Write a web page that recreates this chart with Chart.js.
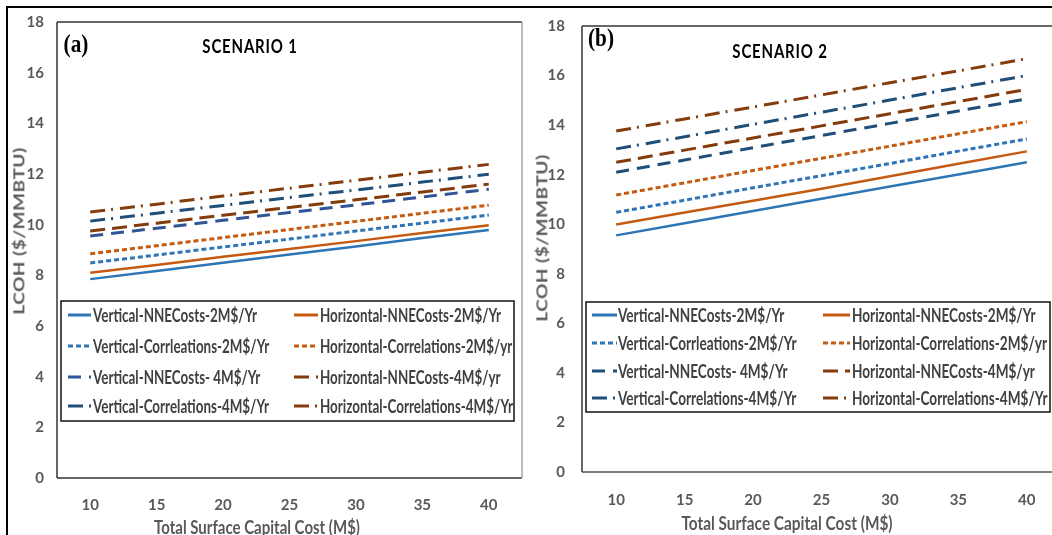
<!DOCTYPE html>
<html>
<head>
<meta charset="utf-8">
<script src="https://cdn.jsdelivr.net/npm/chart.js@4"></script>
<style>
  html, body { margin: 0; padding: 0; background: #fff; }
  body { width: 1052px; height: 535px; overflow: hidden; position: relative; }
  .frame { position: absolute; left: 6px; top: 6px; width: 1100px; height: 600px;
           border-top: 2px solid #000; border-left: 2px solid #000; }
  canvas { position: absolute; top: 0; }
  .txt { position: absolute; white-space: nowrap; line-height: 1; }
  .axt { font: bold 19px Lato, sans-serif; color: #595959; }
  .ayt { font: bold 19px Lato, sans-serif; color: #595959; letter-spacing: 0.5px; }
  .scn { font: bold 19px Lato, sans-serif; color: #000; letter-spacing: 1px; }
  .pnl { font: bold 25px "Liberation Serif", serif; color: #000; }
</style>
</head>
<body>
<div class="frame"></div>
<canvas id="chartA" width="530" height="535" style="left:0px"></canvas>
<canvas id="chartB" width="540" height="535" style="left:530px"></canvas>

<div class="txt pnl" style="left:76px;top:44px;transform:translate(-50%,-50%) scaleX(0.85)">(a)</div>
<div class="txt scn" style="left:250px;top:45px;transform:translate(-50%,-50%) scaleX(0.79)">SCENARIO 1</div>
<div class="txt axt" style="left:257px;top:526px;transform:translate(-50%,-50%) scaleX(0.79)">Total Surface Capital Cost (M$)</div>
<div class="txt ayt" style="left:19px;top:231px;transform:translate(-50%,-50%) rotate(-90deg) scaleY(0.75)">LCOH ($/MMBTU)</div>

<div class="txt pnl" style="left:601px;top:38px;transform:translate(-50%,-50%) scaleX(0.85)">(b)</div>
<div class="txt scn" style="left:780px;top:50px;transform:translate(-50%,-50%) scaleX(0.79)">SCENARIO 2</div>
<div class="txt axt" style="left:787px;top:522px;transform:translate(-50%,-50%) scaleX(0.81)">Total Surface Capital Cost (M$)</div>
<div class="txt ayt" style="left:542px;top:238px;transform:translate(-50%,-50%) rotate(-90deg) scaleY(0.75)">LCOH ($/MMBTU)</div>

<script>
// x categories: total surface capital cost (M$)
const capitalCost = ['10', '15', '20', '25', '30', '35', '40'];

// legend order (two columns, read row by row)
const seriesNames = [
  'Vertical-NNECosts-2M$/Yr',
  'Horizontal-NNECosts-2M$/Yr',
  'Vertical-Corrleations-2M$/Yr',
  'Horizontal-Correlations-2M$/yr',
  'Vertical-NNECosts- 4M$/Yr',
  'Horizontal-NNECosts-4M$/yr',
  'Vertical-Correlations-4M$/Yr',
  'Horizontal-Correlations-4M$/Yr'
];

// Scenario 1 - LCOH ($/MMBTU)
const s1VertNne2  = [7.85, 8.17, 8.50, 8.82, 9.14, 9.47, 9.79];
const s1HorzNne2  = [8.10, 8.41, 8.73, 9.04, 9.35, 9.67, 9.98];
const s1VertCor2  = [8.49, 8.80, 9.12, 9.43, 9.75, 10.06, 10.38];
const s1HorzCor2  = [8.85, 9.17, 9.49, 9.81, 10.13, 10.45, 10.77];
const s1VertNne4  = [9.55, 9.86, 10.17, 10.48, 10.78, 11.09, 11.40];
const s1HorzNne4  = [9.75, 10.06, 10.37, 10.68, 10.98, 11.29, 11.60];
const s1VertCor4  = [10.14, 10.45, 10.76, 11.07, 11.37, 11.68, 11.99];
const s1HorzCor4  = [10.50, 10.81, 11.13, 11.44, 11.75, 12.07, 12.38];

// Scenario 2 - LCOH ($/MMBTU)
const s2VertNne2  = [9.55, 10.04, 10.53, 11.03, 11.52, 12.01, 12.50];
const s2HorzNne2  = [9.99, 10.47, 10.95, 11.43, 11.94, 12.44, 12.94];
const s2VertCor2  = [10.48, 10.97, 11.47, 11.96, 12.45, 12.95, 13.44];
const s2HorzCor2  = [11.18, 11.67, 12.17, 12.66, 13.15, 13.65, 14.14];
const s2VertNne4  = [12.10, 12.59, 13.09, 13.58, 14.07, 14.57, 15.06];
const s2HorzNne4  = [12.50, 12.99, 13.48, 13.97, 14.46, 14.95, 15.44];
const s2VertCor4  = [13.04, 13.53, 14.03, 14.52, 15.01, 15.51, 16.00];
const s2HorzCor4  = [13.76, 14.25, 14.73, 15.22, 15.71, 16.19, 16.68];

const yTicks = [0, 2, 4, 6, 8, 10, 12, 14, 16, 18];

// line styles, same order as seriesNames
function lineStyles(darkBlue) {
  return [
    { color: '#2E75B6', dash: [], width: 2.5 },
    { color: '#C55A11', dash: [], width: 2.5 },
    { color: '#2E75B6', dash: [5, 3], width: 3 },
    { color: '#C55A11', dash: [5, 3], width: 3 },
    { color: darkBlue,  dash: [13, 8], width: 3 },
    { color: '#843C0C', dash: [15, 7], width: 3 },
    { color: '#1F4E79', dash: [15, 6, 2, 7], width: 3 },
    { color: '#843C0C', dash: [15, 6, 2, 7], width: 3 }
  ];
}

function buildDatasets(seriesList, styles) {
  return seriesList.map(function(values, i) {
    return {
      label: seriesNames[i],
      data: values,
      borderColor: styles[i].color,
      borderWidth: styles[i].width,
      borderDash: styles[i].dash,
      borderCapStyle: 'butt',
      pointRadius: 0,
      tension: 0,
      fill: false
    };
  });
}

// plot frame: top/left/bottom/right drawn separately (right edge is lighter in panel a)
const plotFrame = {
  id: 'plotFrame',
  afterDatasetsDraw(chart, args, opts) {
    const a = chart.chartArea, ctx = chart.ctx;
    ctx.save();
    ctx.lineWidth = 1.5;
    function seg(x1, y1, x2, y2, c) {
      ctx.strokeStyle = c;
      ctx.beginPath(); ctx.moveTo(x1, y1); ctx.lineTo(x2, y2); ctx.stroke();
    }
    seg(a.left, a.top, a.right, a.top, opts.top);
    seg(a.left, a.top, a.left, a.bottom, opts.left);
    seg(a.left, a.bottom, a.right, a.bottom, opts.bottom);
    seg(a.right, a.top, a.right, a.bottom, opts.right);
    ctx.restore();
  }
};

// boxed two-column legend inside the plot
const boxLegend = {
  id: 'boxLegend',
  afterDatasetsDraw(chart, args, opts) {
    const ctx = chart.ctx;
    const b = opts.box;
    ctx.save();
    ctx.fillStyle = '#fff';
    ctx.fillRect(b[0], b[1], b[2] - b[0], b[3] - b[1]);
    ctx.strokeStyle = '#111';
    ctx.lineWidth = 1.5;
    ctx.strokeRect(b[0], b[1], b[2] - b[0], b[3] - b[1]);
    chart.data.datasets.forEach(function(ds, i) {
      const col = opts.cols[i % 2];
      const y = opts.rows[Math.floor(i / 2)];
      ctx.strokeStyle = ds.borderColor;
      ctx.lineWidth = 3;
      ctx.setLineDash(ds.borderDash);
      ctx.beginPath(); ctx.moveTo(col[0], y); ctx.lineTo(col[1], y); ctx.stroke();
      ctx.setLineDash([]);
      ctx.fillStyle = '#404040';
      ctx.font = 'bold ' + opts.fontSize + 'px Lato, sans-serif';
      ctx.textBaseline = 'middle';
      ctx.save();
      ctx.translate(col[2], y + 1);
      ctx.scale(opts.squeeze, 1);
      ctx.fillText(ds.label, 0, 0);
      ctx.restore();
    });
    ctx.restore();
  }
};

function makeChart(id, seriesList, darkBlue, layout) {
  return new Chart(document.getElementById(id).getContext('2d'), {
    type: 'line',
    data: { labels: capitalCost, datasets: buildDatasets(seriesList, lineStyles(darkBlue)) },
    options: {
      responsive: false,
      animation: false,
      devicePixelRatio: 1,
      layout: { padding: { left: 0, right: layout.padRight, top: layout.padTop, bottom: 0 } },
      scales: {
        x: {
          offset: true,
          grid: { display: false, drawTicks: false },
          border: { display: false },
          ticks: { color: '#595959', font: { family: 'Lato', size: 15, weight: 'bold' }, padding: layout.xPad, maxRotation: 0 },
          afterFit: function(scale) { scale.height = layout.xHeight; }
        },
        y: {
          min: yTicks[0],
          max: yTicks[yTicks.length - 1],
          afterBuildTicks: function(scale) { scale.ticks = yTicks.map(function(v) { return { value: v }; }); },
          grid: { display: false, drawTicks: false },
          border: { display: false },
          ticks: { color: '#595959', font: { family: 'Lato', size: 15, weight: 'bold' }, padding: layout.yPad },
          afterFit: function(scale) { scale.width = layout.yWidth; }
        }
      },
      plugins: {
        legend: { display: false },
        tooltip: { enabled: false },
        plotFrame: layout.frame,
        boxLegend: layout.legend
      }
    },
    plugins: [plotFrame, boxLegend]
  });
}

makeChart('chartA',
  [s1VertNne2, s1HorzNne2, s1VertCor2, s1HorzCor2, s1VertNne4, s1HorzNne4, s1VertCor4, s1HorzCor4],
  '#2F5597',
  {
    padRight: 8, padTop: 20, xHeight: 57, yWidth: 57, xPad: 18, yPad: 13,
    frame: { top: '#333', left: '#333', bottom: '#333', right: '#a6a6a6' },
    legend: {
      box: [61, 301, 514, 421],
      rows: [315, 346, 377, 406],
      cols: [[68, 91, 93], [294, 318, 320]],
      fontSize: 18, squeeze: 0.745
    }
  });

makeChart('chartB',
  [s2VertNne2, s2HorzNne2, s2VertCor2, s2HorzCor2, s2VertNne4, s2HorzNne4, s2VertCor4, s2HorzCor4],
  '#1F4E79',
  {
    padRight: 9, padTop: 22, xHeight: 63, yWidth: 52, xPad: 19, yPad: 17,
    frame: { top: '#333', left: '#333', bottom: '#555', right: '#555' },
    legend: {
      box: [56, 302, 520, 412],
      rows: [315, 343, 371, 398],
      cols: [[62, 87, 88], [293, 320, 322]],
      fontSize: 18, squeeze: 0.755
    }
  });
</script>
</body>
</html>
